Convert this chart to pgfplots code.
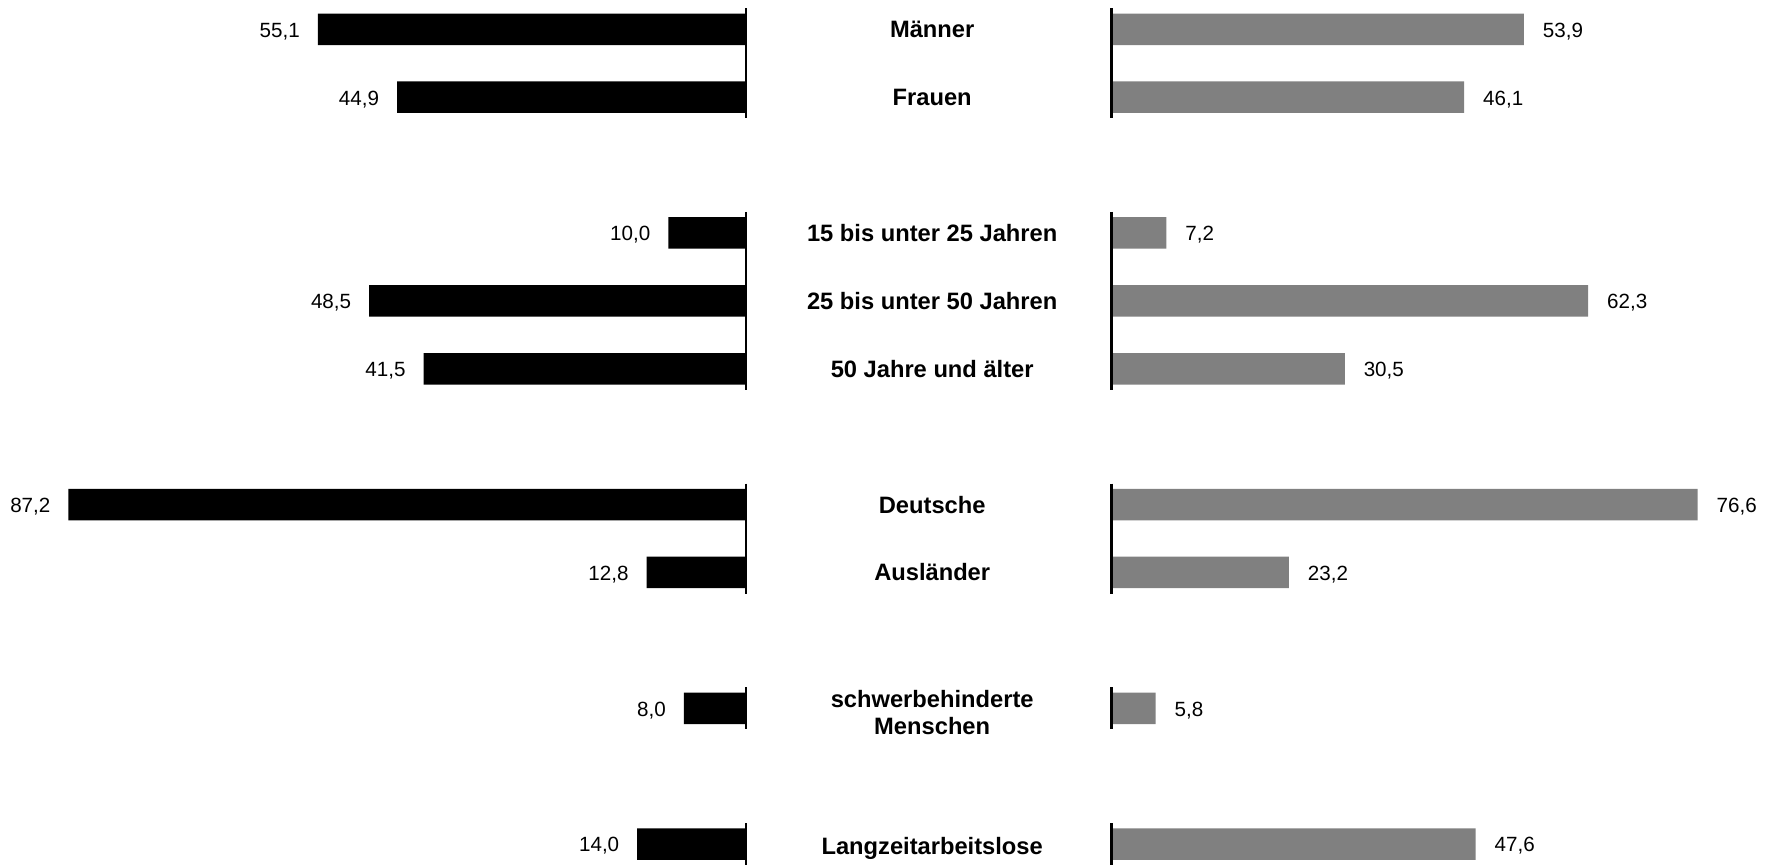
\documentclass[border=0pt]{standalone}
\usepackage{pgfplots}
\pgfplotsset{compat=1.18}
\usepackage{fontspec}
\setmainfont{Liberation Sans}
\definecolor{bargray}{HTML}{808080}
\begin{document}
\fontsize{10}{12}\selectfont
\begin{tikzpicture}
\useasboundingbox (0,0) rectangle (882.5pt,432.5pt);
\pgfplotsset{common/.style={scale only axis, height=432.5pt, hide axis, clip=false,
  y dir=reverse, ymin=-0.431, ymax=12.308}}
% left axis
\begin{axis}[common, at={(0,0)}, anchor=south west, width=373pt, xmin=-96.0, xmax=0]
\addplot[xbar, bar width=0.464, bar shift=0pt, fill=black, draw=none,
  point meta=explicit symbolic, nodes near coords,
  nodes near coords align=horizontal,
  every node near coord/.append style={inner sep=0pt, anchor=east, xshift=-8.8pt, yshift=-1pt, black, font=\fontsize{10.3}{12}\selectfont}]
  table[x=x, y=y, meta=l] {
x y l
-55.1 0 55,1
-44.9 1 44,9
-10.0 3 10,0
-48.5 4 48,5
-41.5 5 41,5
-87.2 7 87,2
-12.8 8 12,8
-8.0 10 8,0
-14.0 12 14,0
};
\addplot[black, line width=1.25pt, sharp plot, mark=none] coordinates {(0,-0.31) (0,1.31)};
\addplot[black, line width=1.25pt, sharp plot, mark=none] coordinates {(0,2.69) (0,5.31)};
\addplot[black, line width=1.25pt, sharp plot, mark=none] coordinates {(0,6.69) (0,8.31)};
\addplot[black, line width=1.25pt, sharp plot, mark=none] coordinates {(0,9.69) (0,10.31)};
\addplot[black, line width=1.25pt, sharp plot, mark=none] coordinates {(0,11.69) (0,12.31)};
\end{axis}
% right axis
\begin{axis}[common, at={(555.65pt,0)}, anchor=south west, width=326.85pt, xmin=0, xmax=85.4]
\addplot[xbar, bar width=0.464, bar shift=0pt, fill=bargray, draw=none,
  point meta=explicit symbolic, nodes near coords,
  nodes near coords align=horizontal,
  every node near coord/.append style={inner sep=0pt, anchor=west, xshift=9.3pt, yshift=-1pt, black, font=\fontsize{10.3}{12}\selectfont}]
  table[x=x, y=y, meta=l] {
x y l
53.9 0 53,9
46.1 1 46,1
7.2 3 7,2
62.3 4 62,3
30.5 5 30,5
76.6 7 76,6
23.2 8 23,2
5.8 10 5,8
47.6 12 47,6
};
\addplot[black, line width=1.25pt, sharp plot, mark=none] coordinates {(0,-0.31) (0,1.31)};
\addplot[black, line width=1.25pt, sharp plot, mark=none] coordinates {(0,2.69) (0,5.31)};
\addplot[black, line width=1.25pt, sharp plot, mark=none] coordinates {(0,6.69) (0,8.31)};
\addplot[black, line width=1.25pt, sharp plot, mark=none] coordinates {(0,9.69) (0,10.31)};
\addplot[black, line width=1.25pt, sharp plot, mark=none] coordinates {(0,11.69) (0,12.31)};
\begin{scope}[every node/.style={font=\bfseries\fontsize{11.85}{13.5}\selectfont, align=center, inner sep=0pt}]
\node at (axis cs:-23.4,0) {Männer};
\node at (axis cs:-23.4,1) {Frauen};
\node at (axis cs:-23.4,3) {15 bis unter 25 Jahren};
\node at (axis cs:-23.4,4) {25 bis unter 50 Jahren};
\node at (axis cs:-23.4,5) {50 Jahre und älter};
\node at (axis cs:-23.4,7) {Deutsche};
\node at (axis cs:-23.4,8) {Ausländer};
\node at (axis cs:-23.4,10.06) {schwerbehinderte\\Menschen};
\node at (axis cs:-23.4,12.07) {Langzeitarbeitslose};
\end{scope}
\end{axis}
\end{tikzpicture}
\end{document}
